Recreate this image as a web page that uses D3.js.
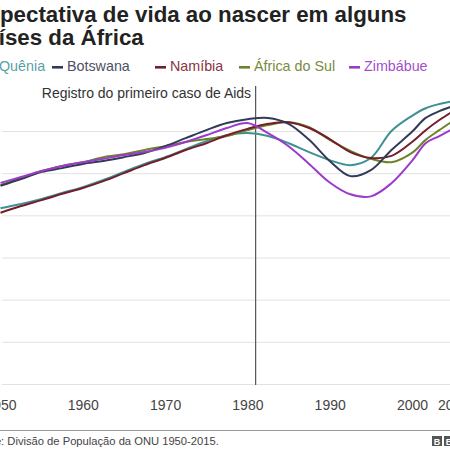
<!DOCTYPE html>
<html>
<head>
<meta charset="utf-8">
<script src="https://cdn.jsdelivr.net/npm/d3@7"></script>
<style>
  html, body { margin: 0; padding: 0; background: #fff; }
  svg { display: block; }
  text { font-family: "Liberation Sans", Arial, Helvetica, sans-serif; }
</style>
</head>
<body>
<svg id="chart" width="450" height="450"></svg>
<script>
// ---- data ----
const titleLines = ["Expectativa de vida ao nascer em alguns", "países da África"];
const annotation = "Registro do primeiro caso de Aids";
const annotationYear = 1981;
const source = "Fonte: Divisão de População da ONU 1950-2015.";
const xTicks = [1950, 1960, 1970, 1980, 1990, 2000, 2015];
const yTicks = [0, 10, 20, 30, 40, 50, 60];
const years = [1950, 1952.5, 1955, 1957.5, 1960, 1962.5, 1965, 1967.5, 1970, 1972.5, 1975, 1977.5,
               1980, 1982.5, 1985, 1987.5, 1990, 1992.5, 1995, 1997.5, 2000, 2005, 2010, 2015];
const countries = ["Quênia", "Botswana", "Namíbia", "África do Sul", "Zimbábue"];
const quenia   = [41.7,42.7,43.9,45.3,46.7,48.4,50.3,52.2,53.8,55.7,57.6,59.0,59.5,58.8,57.1,55.0,53.1,51.9,53.6,60.0,63.6,65.4,66.4,67.1];
const botswana = [47.0,48.6,50.3,51.2,52.2,52.9,53.8,54.8,56.4,58.3,60.2,61.9,62.8,63.1,61.7,57.9,52.9,49.3,50.7,55.5,59.8,63.1,64.7,65.9];
const namibia  = [40.6,42.2,43.6,45.1,46.5,48.1,50.0,51.9,53.6,55.5,57.1,59.0,60.5,61.7,62.1,60.7,58.1,55.0,53.6,54.1,57.4,60.2,62.6,64.7];
const africaSul= [47.2,48.8,50.5,51.7,52.6,53.8,54.5,55.5,56.4,57.4,58.1,58.8,60.2,61.4,62.1,60.9,57.9,55.3,53.4,52.6,54.8,57.9,60.2,62.4];
const zimbabue = [47.7,49.1,50.5,51.7,52.6,53.4,54.3,55.0,56.0,57.4,59.0,60.7,61.9,59.5,56.4,52.2,47.8,45.0,44.5,47.6,52.9,57.1,58.8,60.5];
const seriesValues = [quenia, botswana, namibia, africaSul, zimbabue];

// ---- styles / layout ----
const lineColors = ["#3e9093", "#323a58", "#761d2b", "#6b8429", "#9b3acb"];
const textColors = ["#5a9fa6", "#4d5066", "#8a3442", "#7a8a3e", "#a24fca"];
const legendX = [-16, 52, 155, 239, 349];

const svg = d3.select("#chart");

const x = d3.scaleLinear().domain([1950, 2000, 2015]).range([0.5, 412, 453]);
const y = d3.scaleLinear().domain([0, 60]).range([384, 131]);

// title
const title = svg.append("text")
  .attr("font-size", 22.3).attr("font-weight", "bold").attr("fill", "#222");
titleLines.forEach((t, i) => {
  title.append("tspan").attr("x", -27.3).attr("y", 21.5 + i * 23.5).text(t);
});

// legend
const leg = svg.append("g");
countries.forEach((c, i) => {
  leg.append("rect").attr("x", legendX[i]).attr("y", 66).attr("width", 11).attr("height", 2.6)
    .attr("fill", lineColors[i]);
  leg.append("text").attr("x", legendX[i] + 15).attr("y", 71)
    .attr("font-size", 14.3).attr("fill", textColors[i]).text(c);
});

// gridlines
const grid = svg.append("g").attr("transform", "translate(2,0)")
  .call(d3.axisLeft(y).tickValues(yTicks).tickSize(-460).tickFormat(""));
grid.select(".domain").remove();
grid.selectAll(".tick line").attr("stroke", "#e2e2e2").attr("stroke-width", 1);

// x axis
const xa = svg.append("g").attr("transform", "translate(0,384)")
  .call(d3.axisBottom(x).tickValues(xTicks).tickSize(0).tickPadding(16).tickFormat(d3.format("d")));
xa.select(".domain").remove();
xa.selectAll("text").attr("font-size", 14).attr("fill", "#444")
  .attr("font-family", "'Liberation Sans', Arial, sans-serif");

// annotation line
svg.append("line")
  .attr("x1", x(annotationYear)).attr("x2", x(annotationYear))
  .attr("y1", 86).attr("y2", 385)
  .attr("stroke", "#555").attr("stroke-width", 1.2);
svg.append("text")
  .attr("x", x(annotationYear) - 4.5).attr("y", 98)
  .attr("text-anchor", "end").attr("font-size", 14).attr("fill", "#333")
  .text(annotation);

// lines
const line = d3.line()
  .x((d, i) => x(years[i]))
  .y(d => y(d))
  .curve(d3.curveCatmullRom.alpha(0.5));
const drawOrder = [0, 3, 2, 1, 4];
drawOrder.forEach(i => {
  svg.append("path").datum(seriesValues[i])
    .attr("d", line)
    .attr("fill", "none")
    .attr("stroke", lineColors[i])
    .attr("stroke-width", 2)
    .attr("stroke-linejoin", "round");
});

// footer
svg.append("line").attr("x1", 0).attr("x2", 450).attr("y1", 430.5).attr("y2", 430.5)
  .attr("stroke", "#9a9a9a").attr("stroke-width", 1.2);
svg.append("text").attr("x", -27.5).attr("y", 445)
  .attr("font-size", 11.2).attr("fill", "#444").text(source);

// BBC blocks
const logo = svg.append("g");
["B", "B", "C"].forEach((ch, i) => {
  const bx = 432 + i * 12;
  logo.append("rect").attr("x", bx).attr("y", 436).attr("width", 10).attr("height", 10).attr("fill", "#555");
  logo.append("text").attr("x", bx + 5).attr("y", 444.5).attr("text-anchor", "middle")
    .attr("font-size", 9).attr("font-weight", "bold").attr("fill", "#fff").text(ch);
});
</script>
</body>
</html>
